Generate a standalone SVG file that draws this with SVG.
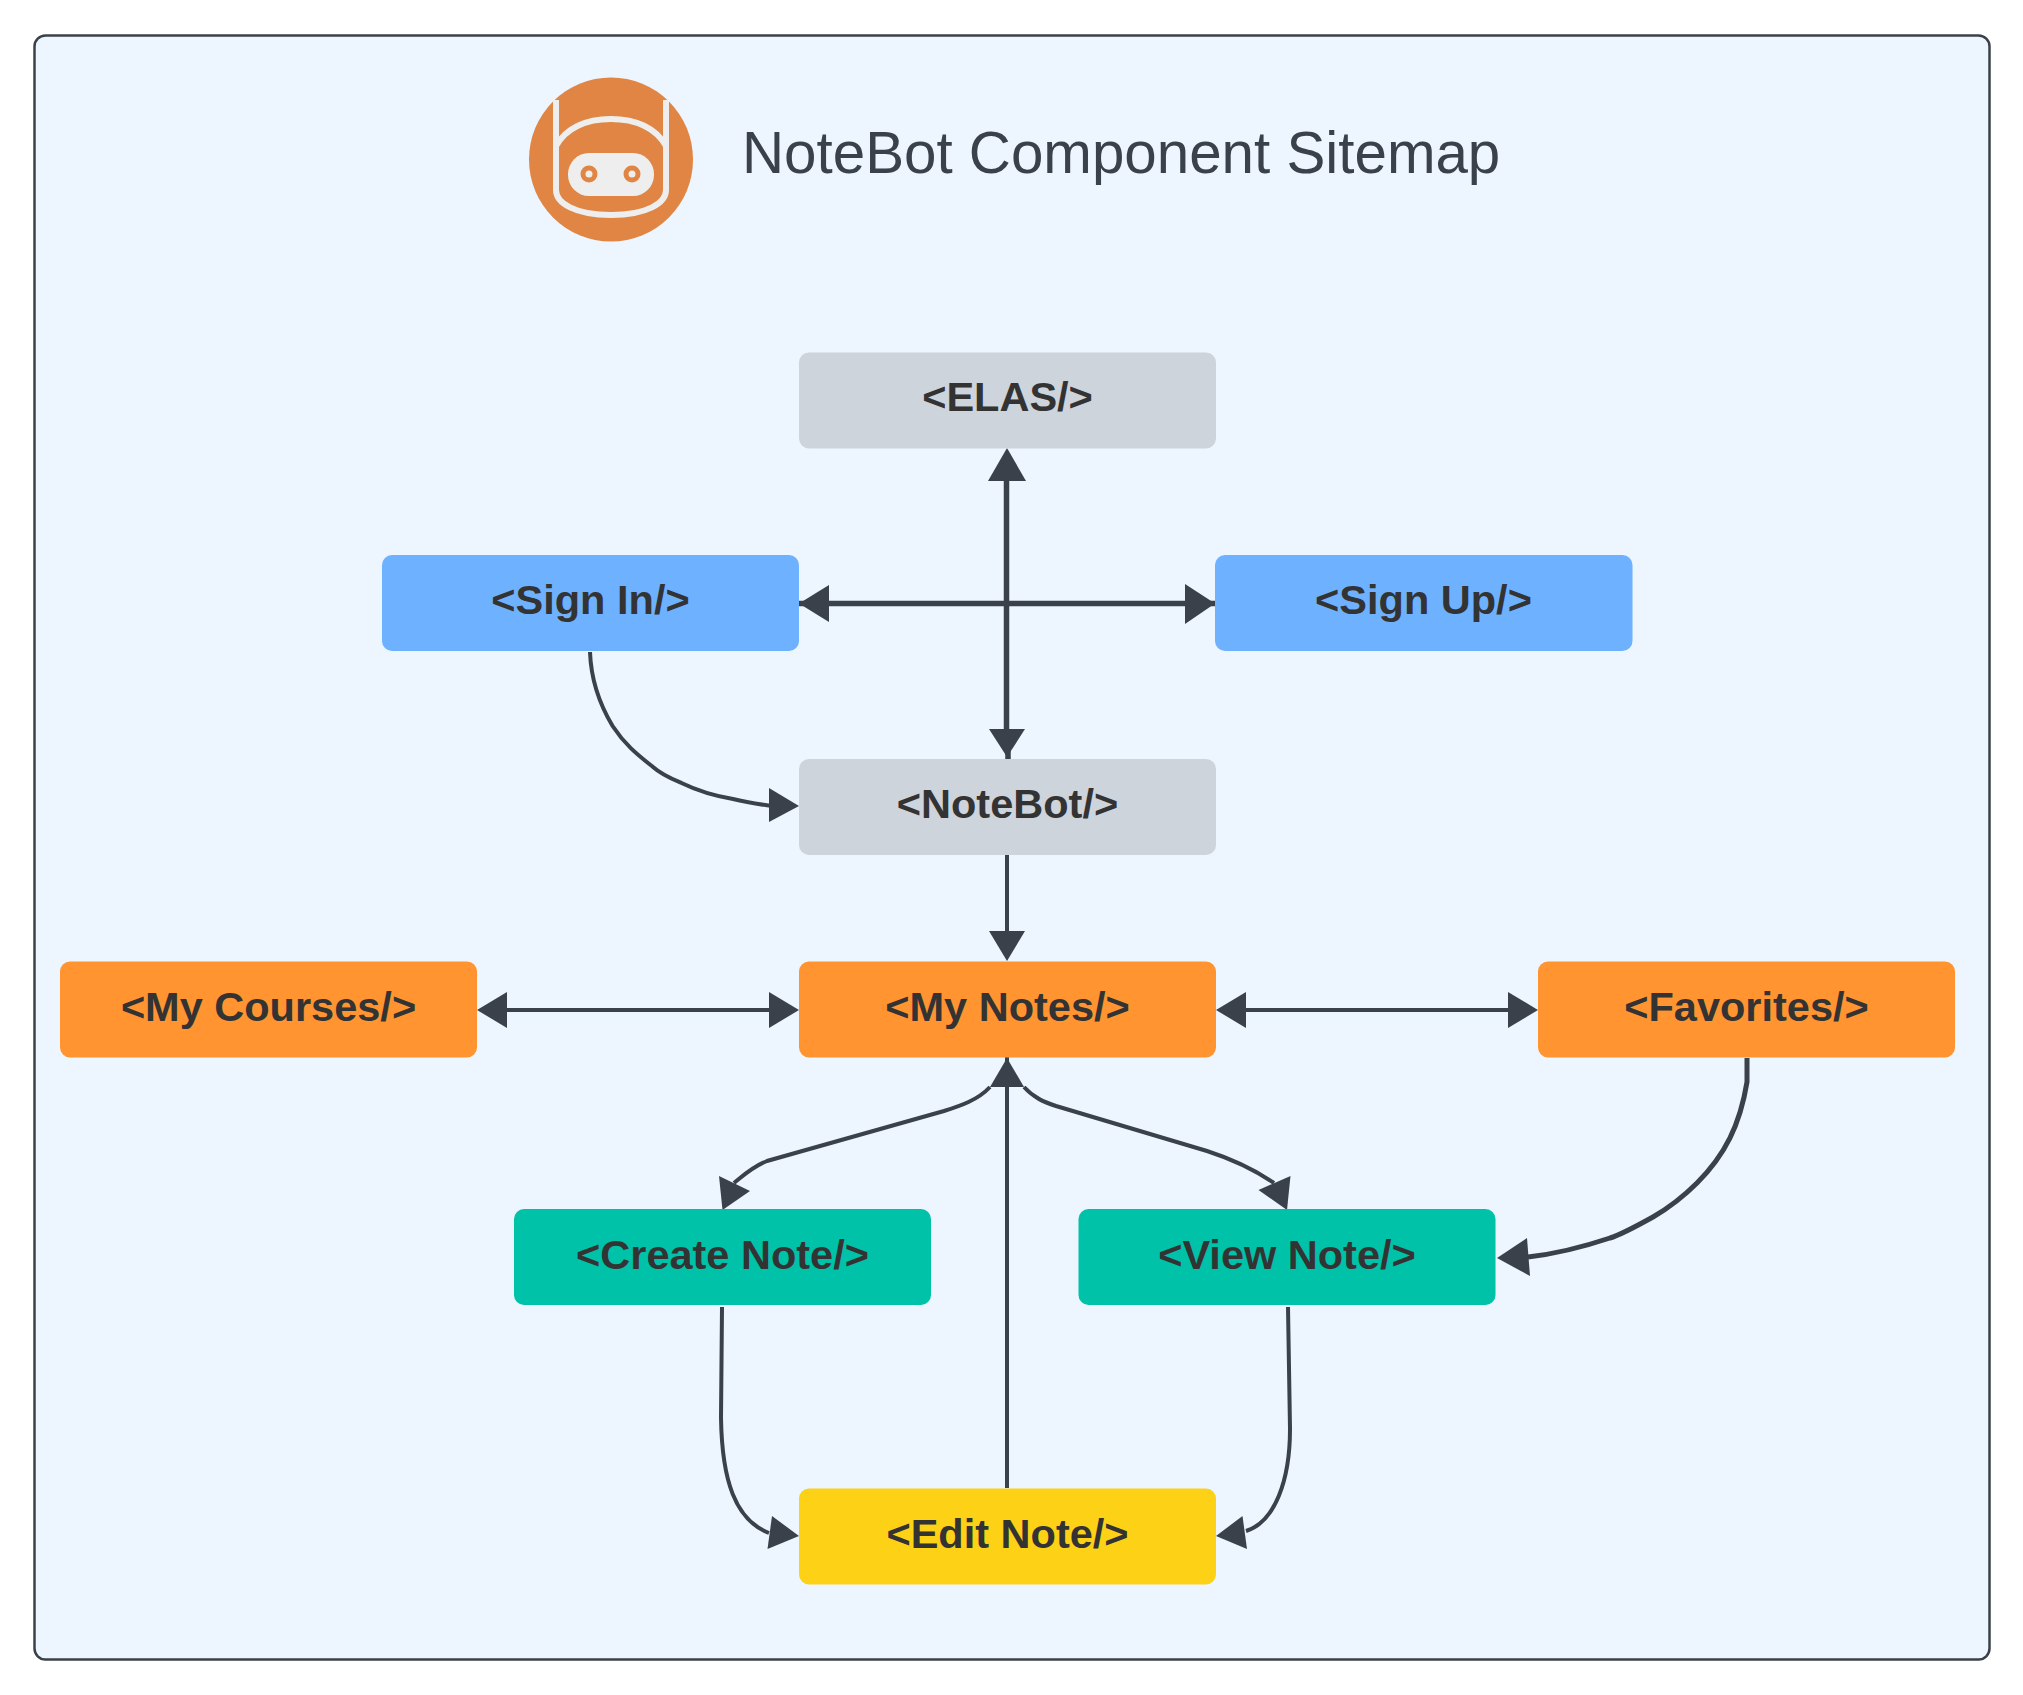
<svg xmlns="http://www.w3.org/2000/svg" width="2023" height="1695" viewBox="0 0 2023 1695">
<style>
.box{stroke:none}
.lbl{font:bold 41.500px "Liberation Sans",Arial,sans-serif;fill:#333;text-anchor:middle}
.ttl{font:58.300px "Liberation Sans",Arial,sans-serif;fill:#3a414a}
.c{fill:none;stroke:#3a414a;stroke-width:4}
.t{stroke-width:5.500}
.m{stroke-width:5}
.h{fill:#3a414a;stroke:none}
.r{fill:none;stroke:#eee;stroke-width:6}
</style>
<rect width="2023" height="1695" fill="#fff"/>
<rect id="frame" x="34.500" y="35.500" width="1955" height="1624" rx="11" fill="#edf5ff" stroke="#3a414a" stroke-width="2.500"/>
<g id="logo">
<circle cx="611" cy="159.500" r="82" fill="#e08543"/>
<path class="r" d="M556 100V190C556 203 575 215 611 215S666 203 666 190V100"/>
<path class="r" d="M556 146C566 128 586 119 611 119S656 128 666 146"/>
<rect x="568" y="153" width="86" height="43" rx="21" fill="#eee"/>
<circle cx="589" cy="174" r="6" fill="#eee" stroke="#e08543" stroke-width="5"/>
<circle cx="632" cy="174" r="6" fill="#eee" stroke="#e08543" stroke-width="5"/>
</g>
<text class="ttl" x="742" y="173">NoteBot Component Sitemap</text>
<g id="connectors">
<path class="c t" d="M1006.500 470V745M1008 745V759"/>
<polygon class="h" points="1007,448 1026,481 988,481"/>
<polygon class="h" points="989,729 1025,729 1007,757"/>
<path class="c t" d="M799 603.500H1215"/>
<polygon class="h" points="799,603.500 829,585 829,622"/>
<polygon class="h" points="1215,603.500 1185,584 1185,624"/>
<path class="c" d="M590 652C591 680 600 705 612.600 726C625 745 638 755 653 767C662 775 672 779 681.500 783C698 791 715 796 733 799C745 802 757 804 772 806"/>
<polygon class="h" points="799,806 769,788 769,822"/>
<path class="c" d="M1007 855V935"/>
<polygon class="h" points="1007,961 989,931 1025,931"/>
<path class="c" d="M495 1010H785"/>
<polygon class="h" points="477,1010 507,992 507,1028"/>
<polygon class="h" points="799,1010 769,992 769,1028"/>
<path class="c" d="M1235 1010H1520"/>
<polygon class="h" points="1216,1010 1246,992 1246,1028"/>
<polygon class="h" points="1538,1010 1508,992 1508,1028"/>
<path class="c" d="M1007 1056V1488"/>
<polygon class="h" points="1007,1058 1024,1087 990,1087"/>
<path class="c" d="M990 1087C978 1100 960 1106 944 1111L767 1161C752 1167 744 1175 734 1183"/>
<polygon class="h" points="722.500,1210 719,1176 750,1191"/>
<path class="c" d="M1024 1087C1034 1098 1044 1102 1056 1106L1207 1151C1235 1160 1255 1170 1274 1183"/>
<polygon class="h" points="1287,1210 1290.500,1176 1258.500,1190"/>
<path class="c" d="M722 1307L721 1418C722 1480 735 1520 769 1533"/>
<polygon class="h" points="799,1536 772,1516 767.500,1549"/>
<path class="c" d="M1288 1307L1290 1429C1290 1480 1275 1522 1246 1531"/>
<polygon class="h" points="1216,1536 1242.500,1516 1247,1549"/>
<path class="c m" d="M1747 1058V1082C1740 1125 1725 1155 1697 1183C1680 1200 1665 1210 1653 1217C1635 1227 1620 1235 1610 1238C1580 1248 1555 1254 1528 1257"/>
<polygon class="h" points="1497,1258 1527,1238 1530,1276"/>
</g>
<g id="node-elas"><rect class="box" x="799" y="352.500" width="417" height="96" rx="10" fill="#cdd4dc"/><text class="lbl" x="1007.500" y="411">&lt;ELAS/&gt;</text></g>
<g id="node-signin"><rect class="box" x="382" y="555" width="417" height="96" rx="10" fill="#6db1ff"/><text class="lbl" x="590.500" y="614">&lt;Sign In/&gt;</text></g>
<g id="node-signup"><rect class="box" x="1215" y="555" width="417.500" height="96" rx="10" fill="#6db1ff"/><text class="lbl" x="1423.500" y="614">&lt;Sign Up/&gt;</text></g>
<g id="node-notebot"><rect class="box" x="799" y="759" width="417" height="96" rx="10" fill="#cdd4dc"/><text class="lbl" x="1007.500" y="818">&lt;NoteBot/&gt;</text></g>
<g id="node-courses"><rect class="box" x="60" y="961.500" width="417" height="96" rx="10" fill="#ff9431"/><text class="lbl" x="268.500" y="1021">&lt;My Courses/&gt;</text></g>
<g id="node-notes"><rect class="box" x="799" y="961.500" width="417" height="96" rx="10" fill="#ff9431"/><text class="lbl" x="1007.500" y="1021">&lt;My Notes/&gt;</text></g>
<g id="node-favorites"><rect class="box" x="1538" y="961.500" width="417" height="96" rx="10" fill="#ff9431"/><text class="lbl" x="1746.500" y="1021">&lt;Favorites/&gt;</text></g>
<g id="node-create"><rect class="box" x="514" y="1209" width="417" height="96" rx="10" fill="#00c2a8"/><text class="lbl" x="722.500" y="1269">&lt;Create Note/&gt;</text></g>
<g id="node-view"><rect class="box" x="1078.500" y="1209" width="417" height="96" rx="10" fill="#00c2a8"/><text class="lbl" x="1287" y="1269">&lt;View Note/&gt;</text></g>
<g id="node-edit"><rect class="box" x="799" y="1488.500" width="417" height="96" rx="10" fill="#fcd116"/><text class="lbl" x="1007.500" y="1548">&lt;Edit Note/&gt;</text></g>
</svg>
